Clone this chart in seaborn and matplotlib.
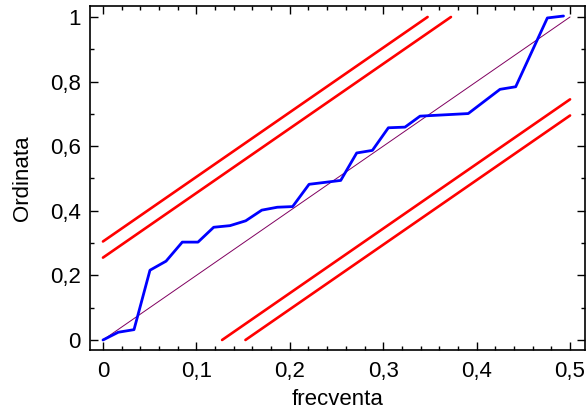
import matplotlib
matplotlib.use("Agg")
import matplotlib.pyplot as plt
import seaborn as sns
import numpy as np
import pandas as pd
from matplotlib.ticker import MultipleLocator, FuncFormatter

# Empirical curve (blue)
emp_x = [0.0, 0.0164, 0.0332, 0.0503, 0.0675, 0.0849, 0.1017, 0.1185, 0.136, 0.1528,
         0.170, 0.1866, 0.203, 0.2206, 0.2377, 0.2545, 0.2716, 0.2884, 0.3055, 0.3233,
         0.3394, 0.391, 0.425, 0.4418, 0.4757, 0.493]
emp_y = [0.0, 0.024, 0.032, 0.216, 0.244, 0.303, 0.303, 0.349, 0.354, 0.369,
         0.402, 0.411, 0.413, 0.482, 0.488, 0.494, 0.579, 0.587, 0.657, 0.659,
         0.693, 0.701, 0.776, 0.784, 0.997, 1.003]

# Reference diagonal
diag_x = [0.0, 0.5]
diag_y = [0.0, 1.0]

# Confidence bands (red)
band_upper_outer_x = [0.0, 0.3475]
band_upper_outer_y = [0.305, 1.0]
band_upper_inner_x = [0.0, 0.3725]
band_upper_inner_y = [0.255, 1.0]
band_lower_inner_x = [0.1275, 0.5]
band_lower_inner_y = [0.0, 0.745]
band_lower_outer_x = [0.1525, 0.5]
band_lower_outer_y = [0.0, 0.695]

x_ticks = [0.0, 0.1, 0.2, 0.3, 0.4, 0.5]
y_ticks = [0.0, 0.2, 0.4, 0.6, 0.8, 1.0]

sns.set_style("white")
plt.rcParams['font.family'] = ['Liberation Sans', 'DejaVu Sans']
plt.rcParams['text.color'] = 'black'
plt.rcParams['axes.labelcolor'] = 'black'
plt.rcParams['xtick.color'] = 'black'
plt.rcParams['ytick.color'] = 'black'

fig = plt.figure(figsize=(5.87, 4.16), dpi=100)
ax = fig.add_axes([90/587, 1-350/416, 495/587, 344/416])

for bx, by in [(band_upper_outer_x, band_upper_outer_y), (band_upper_inner_x, band_upper_inner_y),
               (band_lower_inner_x, band_lower_inner_y), (band_lower_outer_x, band_lower_outer_y)]:
    sns.lineplot(x=bx, y=by, ax=ax, color="#ff0000", linewidth=1.9, sort=False)

sns.lineplot(x=diag_x, y=diag_y, ax=ax, color="#800060", linewidth=0.7, sort=False)
sns.lineplot(x=emp_x, y=emp_y, ax=ax, color="#0000ff", linewidth=2.0, sort=False)

ax.set_xlim(-0.0139, 0.516)
ax.set_ylim(-0.031, 1.034)
ax.set_xticks(x_ticks)
ax.set_yticks(y_ticks)
ax.xaxis.set_minor_locator(MultipleLocator(0.02))
ax.yaxis.set_minor_locator(MultipleLocator(0.1))

def fmt(v, pos):
    s = ("%.1f" % v).rstrip('0').rstrip('.')
    if s in ("", "-0"):
        s = "0"
    return s.replace('.', ',')

ax.xaxis.set_major_formatter(FuncFormatter(fmt))
ax.yaxis.set_major_formatter(FuncFormatter(fmt))
ax.tick_params(which='both', direction='in', top=True, right=True, bottom=True, left=True,
               color='black', labelcolor='black', width=1.0)
ax.tick_params(which='major', length=6, labelsize=16)
ax.tick_params(axis='x', which='major', pad=8)
ax.tick_params(axis='y', which='major', pad=6.5)
ax.tick_params(which='minor', length=3)
for sp in ax.spines.values():
    sp.set_color('black')
    sp.set_linewidth(1.2)

ax.set_xlabel("frecventa", fontsize=16, labelpad=5, color='black')
ax.set_ylabel("Ordinata", fontsize=16, labelpad=12, color='black')

fig.savefig("out.png", dpi=100)
